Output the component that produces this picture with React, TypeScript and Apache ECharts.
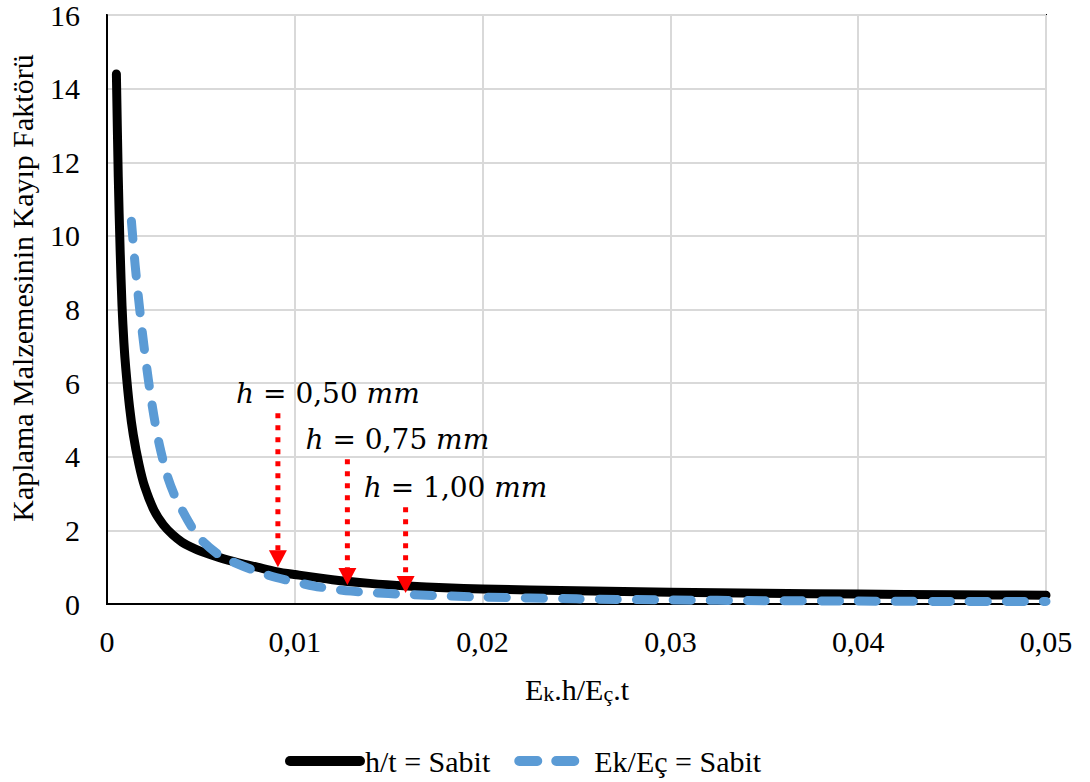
import React, { useEffect, useRef } from "react";
import * as echarts from "echarts";

// Black curve: h/t = Sabit
const blackX = [0.0005, 0.0006, 0.0007, 0.0008, 0.0009, 0.001, 0.0012, 0.0014, 0.0017, 0.002, 0.0025, 0.003, 0.0035, 0.004, 0.0045, 0.005, 0.006, 0.007, 0.008, 0.009, 0.01, 0.012, 0.014, 0.016, 0.018, 0.02, 0.025, 0.03, 0.035, 0.04, 0.045, 0.05];
const blackY = [14.4, 11.6, 9.6, 8.1, 7.1, 6.4, 5.35, 4.6, 3.8, 3.2, 2.55, 2.15, 1.88, 1.68, 1.54, 1.43, 1.26, 1.12, 1.0, 0.88, 0.8, 0.66, 0.56, 0.49, 0.44, 0.41, 0.36, 0.32, 0.29, 0.27, 0.25, 0.24];

// Blue dashed curve: Ek/Eç = Sabit
const blueX = [0.0013, 0.0015, 0.0017, 0.0019, 0.0022, 0.0025, 0.0028, 0.0032, 0.0036, 0.004, 0.0045, 0.005, 0.006, 0.007, 0.008, 0.009, 0.01, 0.011, 0.012, 0.013, 0.014, 0.016, 0.018, 0.02, 0.025, 0.03, 0.035, 0.04, 0.045, 0.05];
const blueY = [10.4, 9.2, 8.2, 7.3, 6.1, 5.1, 4.3, 3.5, 2.95, 2.55, 2.1, 1.75, 1.32, 1.08, 0.88, 0.72, 0.6, 0.49, 0.41, 0.35, 0.31, 0.26, 0.22, 0.19, 0.14, 0.11, 0.09, 0.08, 0.07, 0.07];

// Annotation arrows
const arrowX = [0.0091, 0.0128, 0.0159];
const arrowTopY = [5.18, 3.93, 2.63];
const arrowHeadY = [1.23, 0.75, 0.53];
const arrowLabels = ["0,50", "0,75", "1,00"];

const seriesNames = ["h/t = Sabit", "Ek/Eç = Sabit"];
const xTitle = "E{s|k}.h/E{s|ç}.t";
const yTitle = "Kaplama Malzemesinin Kayıp Faktörü";

const SERIF = "Liberation Serif";
const MATH = "DejaVu Serif";

export default function App() {
  const ref = useRef<HTMLDivElement>(null);
  useEffect(() => {
    if (!ref.current) return;
    const chart = echarts.init(ref.current, null, { renderer: "svg" });
    const arrowSeries = arrowX.map((x, i) => ({
      name: "arrow" + i,
      type: "line",
      silent: true,
      z: 5,
      lineStyle: { color: "#ff0000", width: 5, type: [5, 7], cap: "butt" },
      data: [
        {
          value: [x, arrowTopY[i]],
          symbol: "circle",
          symbolSize: 1,
          itemStyle: { color: "rgba(0,0,0,0)" },
          label: {
            show: true,
            position: "top",
            distance: 5,
            offset: [50, 0],
            formatter: "{i|h}{n| = " + arrowLabels[i] + " }{i|mm}",
            rich: {
              i: { fontFamily: MATH, fontStyle: "italic", fontSize: 28, color: "#000" },
              n: { fontFamily: MATH, fontSize: 28, color: "#000" },
            },
          },
        },
        {
          value: [x, arrowHeadY[i]],
          symbol: "triangle",
          symbolSize: [18, 17],
          symbolRotate: 180,
          itemStyle: { color: "#ff0000" },
        },
      ],
    }));
    chart.setOption({
      animation: false,
      backgroundColor: "#fff",
      textStyle: { fontFamily: SERIF },
      grid: {
        left: 107,
        right: 44,
        top: 14,
        bottom: 178,
        show: true,
        borderColor: "#000",
        borderWidth: 2,
      },
      legend: {
        data: seriesNames,
        left: 285,
        top: 746,
        padding: 0,
        itemWidth: 70,
        itemHeight: 16,
        itemGap: 24,
        itemStyle: { opacity: 0 },
        lineStyle: { width: 10 },
        textStyle: { fontFamily: SERIF, fontSize: 30, color: "#000" },
      },
      xAxis: {
        type: "value",
        min: 0,
        max: 0.05,
        interval: 0.01,
        axisLine: { show: true, lineStyle: { color: "#000", width: 2 } },
        axisTick: { show: false },
        axisLabel: {
          margin: 22,
          fontFamily: SERIF,
          fontSize: 30,
          color: "#000",
          formatter: (v: number) => (v === 0 ? "0" : v.toFixed(2).replace(".", ",")),
        },
        splitLine: { show: true, lineStyle: { color: "#d9d9d9", width: 2 } },
      },
      yAxis: {
        type: "value",
        min: 0,
        max: 16,
        interval: 2,
        axisLine: { show: true, lineStyle: { color: "#000", width: 2 } },
        axisTick: { show: false },
        axisLabel: { margin: 27, fontFamily: SERIF, fontSize: 30, color: "#000" },
        splitLine: { show: true, lineStyle: { color: "#d9d9d9", width: 2 } },
      },
      graphic: [
        {
          type: "text",
          x: 22,
          y: 288,
          rotation: Math.PI / 2,
          style: {
            text: yTitle,
            fontFamily: SERIF,
            fontSize: 30,
            fill: "#000",
            textAlign: "center",
            textVerticalAlign: "middle",
          },
        },
        {
          type: "text",
          x: 577,
          y: 689,
          style: {
            text: xTitle,
            fontFamily: SERIF,
            fontSize: 30,
            fill: "#000",
            textAlign: "center",
            textVerticalAlign: "middle",
            rich: {
              s: { fontFamily: SERIF, fontSize: 22, fill: "#000", verticalAlign: "bottom" },
            },
          },
        },
      ],
      series: [
        {
          name: seriesNames[0],
          type: "line",
          smooth: 0.3,
          symbol: "none",
          z: 3,
          color: "#000",
          lineStyle: { color: "#000", width: 9, cap: "round", join: "round" },
          data: blackX.map((x, i) => [x, blackY[i]]),
        },
        {
          name: seriesNames[1],
          type: "line",
          smooth: 0.3,
          symbol: "none",
          z: 4,
          color: "#5b9bd5",
          lineStyle: { color: "#5b9bd5", width: 9, type: [18, 19], cap: "round", join: "round" },
          data: blueX.map((x, i) => [x, blueY[i]]),
        },
        ...arrowSeries,
      ],
    });
    return () => chart.dispose();
  }, []);
  return <div ref={ref} style={{ width: 1090, height: 782, position: "absolute", left: 0, top: 0 }} />;
}
